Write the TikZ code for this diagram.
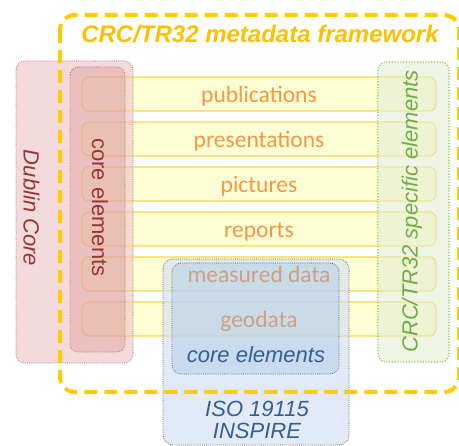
\documentclass[tikz,border=0pt]{standalone}
\usepackage{fontspec}
\setmainfont{Liberation Sans}
\newfontfamily\barfont{Carlito}
\definecolor{dashgold}{RGB}{255,204,0}
\definecolor{titlegold}{RGB}{255,192,0}
\definecolor{barfill}{RGB}{255,255,213}
\definecolor{barline}{RGB}{255,212,70}
\definecolor{bartext}{RGB}{247,150,70}
\definecolor{bartan}{RGB}{205,160,132}
\definecolor{dcfill}{RGB}{235,195,195}
\definecolor{dcline}{RGB}{200,90,90}
\definecolor{dctext}{RGB}{149,55,53}
\definecolor{rcfill}{RGB}{210,130,130}
\definecolor{grfill}{RGB}{228,238,210}
\definecolor{grline}{RGB}{140,195,80}
\definecolor{grtext}{RGB}{112,173,71}
\definecolor{isofill}{RGB}{205,220,240}
\definecolor{isoline}{RGB}{60,85,120}
\definecolor{bcfill}{RGB}{180,205,235}
\definecolor{bluetext}{RGB}{51,95,150}
\tikzset{
  barbox/.style={draw=barline, line width=1.3pt, fill=barfill, rounded corners=7pt},
  bartxt/.style={font=\barfont\fontsize{23.5}{28}\selectfont, text=bartext, anchor=base, inner sep=0pt},
  dotbox/.style={line width=0.7pt, dash pattern=on 0.7pt off 1.2pt},
  sidetxt/.style={font=\fontsize{22}{26}\selectfont, inner sep=0pt},
}
\begin{document}
\begin{tikzpicture}[x=1pt,y=-1pt]
\useasboundingbox (0,0) rectangle (459,446);
% bars
\foreach \t in {77,122,167,212,257,302}{
  \path[barbox] (82,\t) rectangle (436,\t+34);
}
\node[bartxt] (bar1) at (259,102.5) {publications};
\node[bartxt] (bar2) at (259,147.5) {presentations};
\node[bartxt] (bar3) at (259,192.5) {pictures};
\node[bartxt] (bar4) at (259,237.5) {reports};
% Dublin Core
\path[dotbox, draw=dcline, fill=dcfill, fill opacity=0.6, rounded corners=9pt] (16,61) rectangle (133,363);
\node[sidetxt, text=dctext, rotate=-90] (dublin) at (31.5,208) {\itshape Dublin Core};
% red core elements
\path[dotbox, draw=dcline, fill=rcfill, fill opacity=0.3, rounded corners=8pt] (70,67) rectangle (125,352);
\node[sidetxt, text=dctext, rotate=-90] (redcore) at (100,207.5) {core elements};
% green specific elements
\path[draw=grline, fill=grfill, fill opacity=0.6, line width=1.1pt, dash pattern=on 1.1pt off 1.7pt, rounded corners=8pt] (378,62) rectangle (449,362);
\node[sidetxt, text=grtext, rotate=90] (green) at (412,211.5) {\itshape CRC/TR32 specific elements};
% ISO box
\path[dotbox, draw=isoline, fill=isofill, fill opacity=0.6, rounded corners=10pt] (163,259) rectangle (349,445);
\node[sidetxt, text=bluetext, anchor=base] (iso1) at (257,417) {\itshape ISO 19115};
\node[sidetxt, text=bluetext, anchor=base] (iso2) at (257,438.5) {\itshape INSPIRE};
% inner blue core
\path[dotbox, draw=isoline, fill=bcfill, fill opacity=0.5, rounded corners=9pt] (172,263) rectangle (339,374);
\node[sidetxt, text=bluetext, anchor=base] (bluecore) at (256,363) {\itshape core elements};
\node[bartxt, text=bartan] (bar5) at (259,282.5) {measured data};
\node[bartxt, text=bartan] (bar6) at (259,327.5) {geodata};
% dashed frame
\draw[dashgold, line width=4pt, dash pattern=on 13pt off 7pt, rounded corners=15pt] (60,15) rectangle (459,392);
\node[font=\bfseries\itshape\fontsize{24}{28}\selectfont, text=titlegold, anchor=base, inner sep=0pt] (title) at (260,43) {CRC/TR32 metadata framework};
\end{tikzpicture}
\end{document}
